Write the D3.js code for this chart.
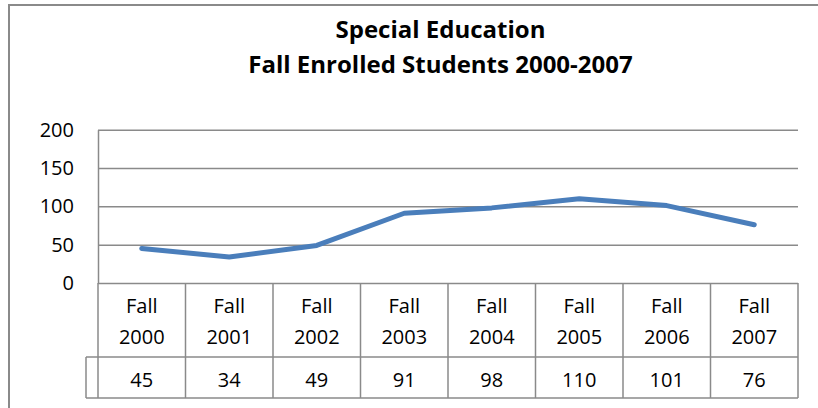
<!DOCTYPE html>
<html>
<head>
<meta charset="utf-8">
<script src="https://cdn.jsdelivr.net/npm/d3@7"></script>
<style>
  body { margin: 0; background: #fff; }
  svg { display: block; font-family: "Open Sans", sans-serif; }
</style>
</head>
<body>
<svg width="818" height="408"></svg>
<script>
const width = 818
const height = 408
const plotLeft = 98
const plotRight = 798
const plotTop = 129.7
const plotBottom = 283
const rowLabelBottom = 357
const rowValueBottom = 398
const keyLeft = 86
const gridColor = "#8a8a8a"
const lineColor = "#4a7ebb"

const titleLines = ["Special Education", "Fall Enrolled Students 2000-2007"]
const seasons = ["Fall", "Fall", "Fall", "Fall", "Fall", "Fall", "Fall", "Fall"]
const years = ["2000", "2001", "2002", "2003", "2004", "2005", "2006", "2007"]
const enrolled = [45, 34, 49, 91, 98, 110, 101, 76]
const yTicks = [0, 50, 100, 150, 200]

const categories = years.map((y, i) => seasons[i] + " " + y)
const dataset = categories.map((c, i) => ({ category: c, season: seasons[i], year: years[i], value: enrolled[i] }))

const svg = d3.select("svg")

// chart border (runs off the right and bottom edge)
svg.append("rect")
    .attr("x", 9)
    .attr("y", 5)
    .attr("width", 830)
    .attr("height", 430)
    .style("fill", "none")
    .style("stroke", gridColor)
    .style("stroke-width", 2)

svg.append("g")
    .selectAll("text")
    .data(titleLines)
    .enter()
    .append("text")
        .attr("x", 440.5)
        .attr("y", (d, i) => 38 + i * 34.5)
        .attr("text-anchor", "middle")
        .style("font-weight", "bold")
        .style("font-size", "24px")
        .style("fill", "#000")
        .text(d => d)

const xScale = d3.scaleBand()
    .domain(categories)
    .range([plotLeft, plotRight])
    .padding(0)

const yScale = d3.scaleLinear()
    .domain([0, 200])
    .range([plotBottom, plotTop])

const yAxis = d3.axisLeft(yScale)
    .tickValues(yTicks)
    .tickSize(-(plotRight - plotLeft))
    .tickSizeOuter(0)
    .tickPadding(24)

const yAxisG = svg.append("g")
    .attr("transform", `translate(${plotLeft}, 0)`)
    .call(yAxis)

yAxisG.select(".domain")
    .style("stroke", gridColor)
    .style("stroke-width", 1.5)
yAxisG.selectAll(".tick line")
    .style("stroke", gridColor)
    .style("stroke-width", 1.5)
yAxisG.selectAll(".tick text")
    .style("font-size", "20px")
    .style("font-family", "\"Open Sans\", sans-serif")
    .style("fill", "#000")

// data table
const table = svg.append("g")
    .style("stroke", gridColor)
    .style("stroke-width", 1.5)

table.selectAll("line.col")
    .data(categories)
    .enter()
    .append("line")
        .attr("class", "col")
        .attr("x1", d => xScale(d) + xScale.bandwidth())
        .attr("x2", d => xScale(d) + xScale.bandwidth())
        .attr("y1", plotBottom)
        .attr("y2", rowValueBottom)

table.append("line")
    .attr("x1", plotLeft).attr("x2", plotLeft)
    .attr("y1", plotBottom).attr("y2", rowValueBottom)

table.selectAll("line.row")
    .data([rowLabelBottom, rowValueBottom])
    .enter()
    .append("line")
        .attr("class", "row")
        .attr("x1", keyLeft)
        .attr("x2", plotRight)
        .attr("y1", d => d)
        .attr("y2", d => d)

table.append("line")
    .attr("x1", keyLeft).attr("x2", keyLeft)
    .attr("y1", rowLabelBottom).attr("y2", rowValueBottom)

const cells = svg.append("g")
    .selectAll("g")
    .data(dataset)
    .enter()
    .append("g")
        .attr("transform", d => `translate(${xScale(d.category) + xScale.bandwidth() / 2}, 0)`)
        .attr("text-anchor", "middle")
        .style("font-size", "20px")
        .style("fill", "#000")

cells.append("text").attr("y", 313).text(d => d.season)
cells.append("text").attr("y", 344).text(d => d.year)
cells.append("text").attr("y", 387).text(d => d.value)

const line = d3.line()
    .x(d => xScale(d.category) + xScale.bandwidth() / 2)
    .y(d => yScale(d.value))

svg.append("path")
    .datum(dataset)
    .attr("d", line)
    .style("fill", "none")
    .style("stroke", lineColor)
    .style("stroke-width", 5)
    .style("stroke-linecap", "round")
    .style("stroke-linejoin", "round")
</script>
</body>
</html>
